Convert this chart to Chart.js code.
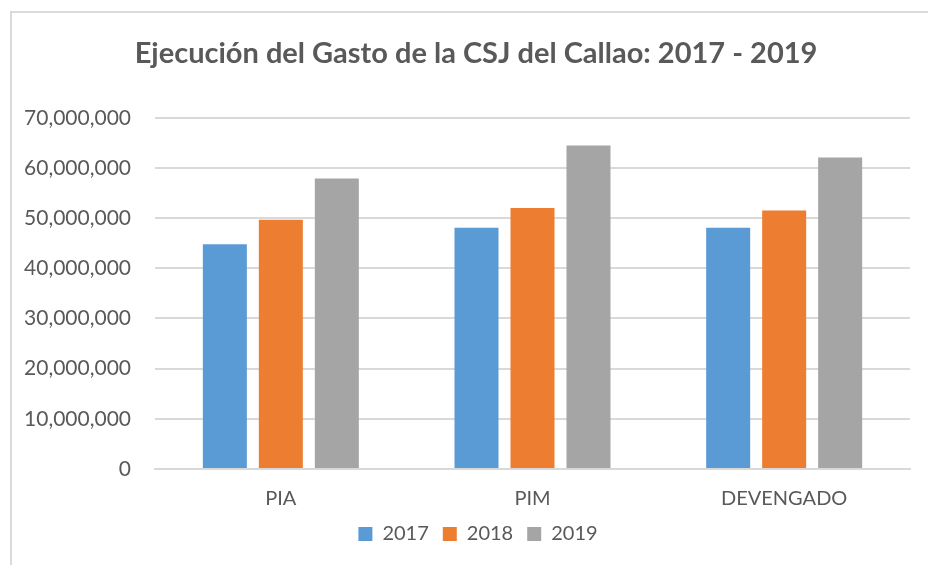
<!DOCTYPE html>
<html>
<head>
<meta charset="utf-8">
<script src="https://cdn.jsdelivr.net/npm/chart.js@4/dist/chart.umd.min.js"></script>
<style>
  body { margin: 0; background: #ffffff; }
  #wrap { position: relative; width: 928px; height: 565px; overflow: hidden; }
  #frame { position: absolute; left: 10px; top: 11px; width: 940px; height: 570px; border: 2px solid #dadada; }
  #chart { position: absolute; left: 0; top: 0; }
</style>
</head>
<body>
<div id="wrap">
  <div id="frame"></div>
  <canvas id="chart" width="928" height="565"></canvas>
</div>
<script>
// categorias y series
var categories = ['PIA', 'PIM', 'DEVENGADO'];
var years = ['2017', '2018', '2019'];
var values2017 = [44800000, 48100000, 48100000];
var values2018 = [49700000, 52000000, 51500000];
var values2019 = [57900000, 64500000, 62100000];
var colors = ['#5b9bd5', '#ed7d31', '#a5a5a5'];

var textColor = '#595959';
var fontFam = 'Lato, "Open Sans", sans-serif';

var chartdata = {
    labels: categories,
    datasets: [
        { label: years[0], data: values2017, backgroundColor: colors[0] },
        { label: years[1], data: values2018, backgroundColor: colors[1] },
        { label: years[2], data: values2019, backgroundColor: colors[2] }
    ]
};

// el marco de Excel esta corrido a la derecha, centramos titulo y leyenda igual
var shiftBoxes = {
    id: 'shiftBoxes',
    afterLayout: function(chart) {
        if (chart.titleBlock) { chart.titleBlock.left += 12; chart.titleBlock.right += 12; }
        if (chart.legend) { chart.legend.left += 14; chart.legend.right += 14; }
    }
};

new Chart(document.getElementById('chart'), {
    type: 'bar',
    data: chartdata,
    plugins: [shiftBoxes],
    options: {
        responsive: false,
        animation: false,
        datasets: {
            bar: {
                categoryPercentage: 0.6675,
                barPercentage: 0.786
            }
        },
        layout: {
            padding: { left: 18, right: 18, top: 0, bottom: 11 }
        },
        scales: {
            x: {
                grid: { display: false, drawTicks: false },
                border: { color: '#d9d9d9', width: 2 },
                afterFit: function(s) { s.height = s.height - 19; },
                ticks: { color: textColor, font: { family: fontFam, size: 20 }, padding: 18 }
            },
            y: {
                min: 0,
                max: 70000000,
                grid: { color: '#d9d9d9', lineWidth: 2, drawTicks: false },
                border: { display: false },
                afterFit: function(s) { s.width = 137; },
                ticks: {
                    stepSize: 10000000,
                    color: textColor,
                    padding: 24,
                    font: { family: fontFam, size: 21 },
                    callback: function(v) { return v.toLocaleString('en-US'); }
                }
            }
        },
        plugins: {
            title: {
                display: true,
                text: 'Ejecución del Gasto de la CSJ del Callao: 2017 - 2019',
                color: textColor,
                font: { family: fontFam, size: 29, weight: 'bold' },
                padding: { top: 36, bottom: 47 }
            },
            legend: {
                position: 'bottom',
                labels: {
                    color: textColor,
                    font: { family: fontFam, size: 20 },
                    boxWidth: 14,
                    boxHeight: 14,
                    padding: 14
                }
            },
            tooltip: { enabled: false }
        }
    }
});
</script>
</body>
</html>
